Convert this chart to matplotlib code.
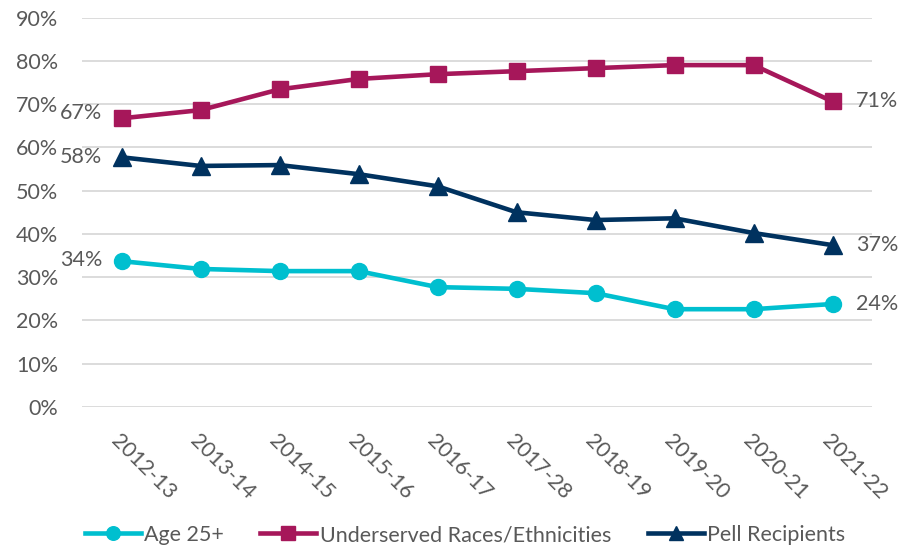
import matplotlib
matplotlib.use("Agg")
import matplotlib.pyplot as plt
from matplotlib.ticker import FuncFormatter

plt.rcParams['font.family'] = ['Lato', 'DejaVu Sans']

years = ["2012-13", "2013-14", "2014-15", "2015-16", "2016-17", "2017-28",
         "2018-19", "2019-20", "2020-21", "2021-22"]
age25 = [33.7, 31.9, 31.4, 31.4, 27.7, 27.3, 26.3, 22.6, 22.6, 23.8]
underserved = [66.7, 68.6, 73.4, 75.8, 76.9, 77.6, 78.3, 79.0, 79.0, 70.6]
pell = [57.7, 55.7, 55.9, 53.8, 51.0, 45.0, 43.2, 43.6, 40.2, 37.4]

c_age = '#00BFCF'
c_und = '#A6175A'
c_pell = '#00325F'
gray = '#595959'
fs = 15.5

fig = plt.figure(figsize=(9.08, 5.48), dpi=100)
ax = fig.add_axes([82/908, 1-407/548, (872-82)/908, (407-17.5)/548])

x = list(range(len(years)))
ax.plot(x, age25, color=c_age, lw=3.3, marker='o', ms=11.5, label='Age 25+', zorder=3)
ax.plot(x, underserved, color=c_und, lw=3.3, marker='s', ms=12, label='Underserved Races/Ethnicities', zorder=3)
ax.plot(x, pell, color=c_pell, lw=3.3, marker='^', ms=12.5, label='Pell Recipients', zorder=3)

ax.set_xlim(-0.5, len(years) - 0.5)
ax.set_ylim(0, 90)
ax.set_yticks(range(0, 91, 10))
ax.yaxis.set_major_formatter(FuncFormatter(lambda v, p: f"{int(v)}%"))
ax.grid(axis='y', color='#D9D9D9', lw=1.3)
ax.set_axisbelow(True)
for s in ax.spines.values():
    s.set_visible(False)
ax.tick_params(axis='both', length=0, labelsize=fs, labelcolor=gray)
ax.tick_params(axis='y', pad=17)
ax.set_xticks(x)
ax.set_xticklabels(years, rotation=-45, ha='left', rotation_mode='anchor')
ax.tick_params(axis='x', pad=17)

# data labels
for series, dy in [(age25, 1), (underserved, 4), (pell, 0)]:
    ax.annotate(f"{round(series[0])}%", (0, series[0]), xytext=(-14, dy),
                textcoords='offset points', ha='right', va='center',
                fontsize=fs, color=gray)
    ax.annotate(f"{round(series[-1])}%", (x[-1], series[-1]), xytext=(17, 0),
                textcoords='offset points', ha='left', va='center',
                fontsize=fs, color=gray)

leg = fig.legend(loc='center', bbox_to_anchor=(0.512, 1-535/548), ncol=3,
                 frameon=False, fontsize=fs, handlelength=2.6,
                 columnspacing=1.7, handletextpad=0.15, markerscale=0.85)
for t in leg.get_texts():
    t.set_color(gray)

fig.savefig('out.png', dpi=100)
